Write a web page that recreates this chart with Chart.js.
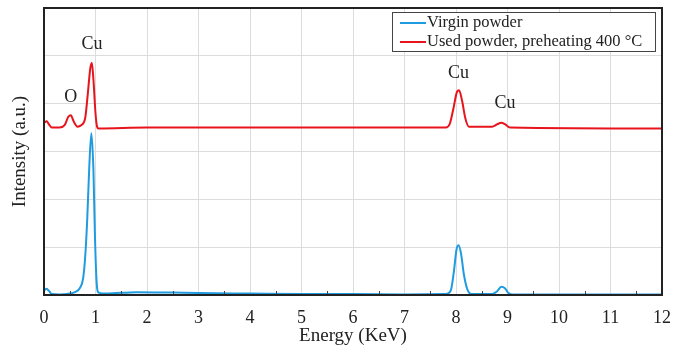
<!DOCTYPE html>
<html>
<head>
<meta charset="utf-8">
<script src="https://cdn.jsdelivr.net/npm/chart.js@4.4.0/dist/chart.umd.min.js"></script>
<style>
  html, body { margin: 0; padding: 0; background: #fff; }
  #wrap { width: 685px; height: 347px; }
</style>
</head>
<body>
<div id="wrap"><canvas id="edsChart"></canvas></div>
<script>
// spectra (energy in keV, intensity in arbitrary units)
const virginEnergy = [0, 0.05, 0.1, 0.15, 0.3, 0.5, 0.6, 0.7, 0.76, 0.8, 0.84, 0.88, 0.92, 0.96, 0.99, 1.02, 1.06, 1.2, 1.8, 2.5, 3, 4, 5, 6, 7, 7.8, 7.9, 7.96, 8.01, 8.05, 8.1, 8.15, 8.22, 8.3, 8.7, 8.8, 8.88, 8.95, 9.02, 9.1, 10, 12];
const virginCounts = [0.10, 0.13, 0.08, 0.02, 0.01, 0.03, 0.06, 0.15, 0.35, 0.8, 1.6, 2.7, 3.38, 2.6, 1.2, 0.3, 0.05, 0.03, 0.06, 0.05, 0.04, 0.03, 0.02, 0.02, 0.01, 0.02, 0.1, 0.5, 0.95, 1.04, 0.85, 0.45, 0.12, 0.02, 0.02, 0.08, 0.17, 0.14, 0.04, 0.01, 0.01, 0.01];

const usedEnergy = [0, 0.05, 0.1, 0.15, 0.3, 0.4, 0.47, 0.52, 0.58, 0.65, 0.72, 0.8, 0.85, 0.9, 0.93, 0.96, 1.0, 1.03, 1.06, 2, 4, 7, 7.8, 7.88, 7.95, 8.02, 8.06, 8.12, 8.18, 8.25, 8.7, 8.8, 8.88, 8.95, 9.05, 12];
const usedCounts = [3.6, 3.63, 3.56, 3.5, 3.5, 3.55, 3.72, 3.76, 3.62, 3.52, 3.55, 3.7, 4.2, 4.75, 4.85, 4.5, 3.8, 3.52, 3.48, 3.5, 3.5, 3.5, 3.5, 3.58, 3.9, 4.25, 4.28, 4.05, 3.7, 3.52, 3.52, 3.57, 3.6, 3.57, 3.5, 3.48];

// peak labels
const peakNames = ['Cu', 'O', 'Cu', 'Cu'];
const peakEnergy = [0.93, 0.52, 8.05, 8.95];
const peakLabelY = [5.25, 4.13, 4.63, 4.01];

const serif = '"Liberation Serif", "DejaVu Serif", serif';

function toPoints(xs, ys) {
  return xs.map((x, i) => ({ x: x, y: ys[i] }));
}

const frameAndLabels = {
  id: 'frameAndLabels',
  afterDraw(chart) {
    const { ctx, chartArea: a, scales } = chart;
    const xs = scales.x, ys = scales.y;
    ctx.save();

    // minor ticks on bottom axis
    ctx.strokeStyle = '#444';
    ctx.lineWidth = 1;
    for (let v = 0.5; v < 12; v += 1) {
      const px = Math.round(xs.getPixelForValue(v)) + 0.5;
      ctx.beginPath();
      ctx.moveTo(px, a.bottom);
      ctx.lineTo(px, a.bottom - 4);
      ctx.stroke();
    }

    // frame
    ctx.strokeStyle = '#222';
    ctx.lineWidth = 2;
    ctx.strokeRect(a.left, a.top, a.right - a.left, a.bottom - a.top);

    // peak annotations
    ctx.fillStyle = '#222';
    ctx.font = '18px ' + serif;
    ctx.textAlign = 'center';
    ctx.textBaseline = 'middle';
    peakNames.forEach((name, i) => {
      ctx.fillText(name, xs.getPixelForValue(peakEnergy[i]), ys.getPixelForValue(peakLabelY[i]));
    });

    // boxed legend, top right
    const boxL = 392, boxT = 12, boxR = 655, boxB = 51;
    ctx.fillStyle = '#fff';
    ctx.fillRect(boxL, boxT, boxR - boxL, boxB - boxT);
    ctx.strokeStyle = '#444';
    ctx.lineWidth = 1;
    ctx.strokeRect(boxL + 0.5, boxT + 0.5, boxR - boxL, boxB - boxT);
    ctx.font = '16.5px ' + serif;
    ctx.textAlign = 'left';
    chart.data.datasets.forEach((ds, i) => {
      const y = boxT + 11 + i * 19;
      ctx.strokeStyle = ds.borderColor;
      ctx.lineWidth = 2;
      ctx.beginPath();
      ctx.moveTo(boxL + 8, y);
      ctx.lineTo(boxL + 34, y);
      ctx.stroke();
      ctx.fillStyle = '#222';
      ctx.fillText(ds.label, boxL + 35, y);
    });
    ctx.restore();
  }
};

new Chart(document.getElementById('edsChart').getContext('2d'), {
  type: 'line',
  data: {
    datasets: [
      {
        label: 'Virgin powder',
        data: toPoints(virginEnergy, virginCounts),
        borderColor: '#1f9be0',
        borderWidth: 2,
        pointRadius: 0,
        fill: false,
        cubicInterpolationMode: 'monotone'
      },
      {
        label: 'Used powder, preheating 400 °C',
        data: toPoints(usedEnergy, usedCounts),
        borderColor: '#e8141b',
        borderWidth: 2,
        pointRadius: 0,
        fill: false,
        cubicInterpolationMode: 'monotone'
      }
    ]
  },
  options: {
    responsive: true,
    maintainAspectRatio: false,
    animation: false,
    layout: { padding: { left: 0, top: 8, right: 23, bottom: 0 } },
    plugins: {
      legend: { display: false },
      tooltip: { enabled: false }
    },
    scales: {
      x: {
        type: 'linear',
        min: 0,
        max: 12,
        ticks: {
          stepSize: 1,
          color: '#222',
          font: { family: serif, size: 18 },
          padding: 12
        },
        grid: { color: '#dcdcdc', drawTicks: false },
        border: { color: '#222', width: 2 },
        title: {
          display: true,
          text: 'Energy (KeV)',
          color: '#222',
          font: { family: serif, size: 19 },
          padding: { top: 0, bottom: 0 }
        },
        afterFit(scale) { scale.height = 52; }
      },
      y: {
        min: 0,
        max: 6,
        ticks: { stepSize: 1, display: false },
        grid: { color: '#dcdcdc', drawTicks: false },
        border: { color: '#222', width: 2 },
        title: {
          display: true,
          text: 'Intensity (a.u.)',
          color: '#222',
          font: { family: serif, size: 19 },
          padding: { top: 9, bottom: 0 }
        },
        afterFit(scale) { scale.width = 44; }
      }
    }
  },
  plugins: [frameAndLabels]
});
</script>
</body>
</html>
